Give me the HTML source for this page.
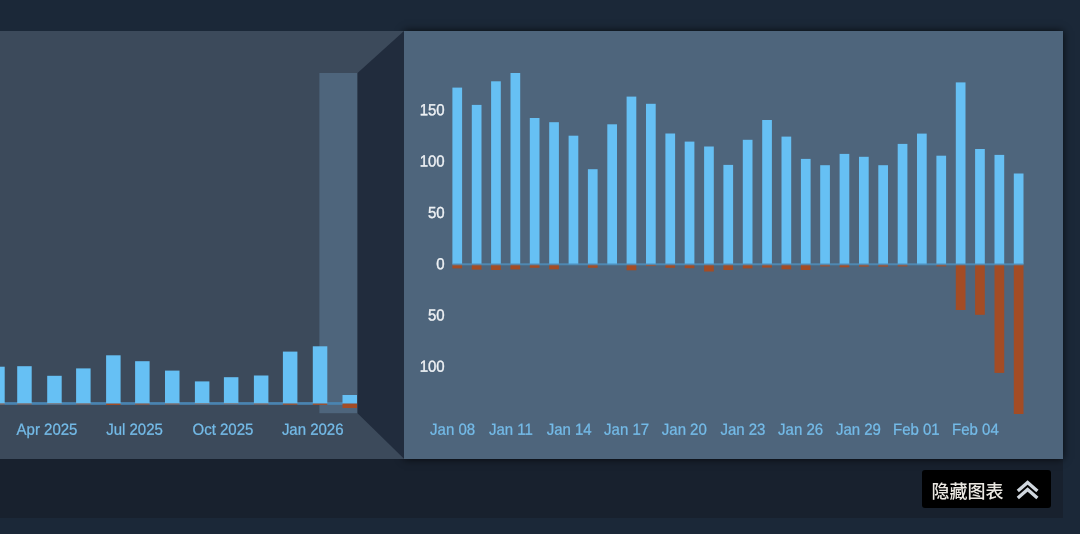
<!DOCTYPE html>
<html lang="zh-CN"><head><meta charset="utf-8"><title>Reviews</title>
<style>
html,body{margin:0;padding:0;}
body{width:1080px;height:534px;overflow:hidden;background:#1b2838;position:relative;font-family:"Liberation Sans","Noto Sans CJK SC",sans-serif;}
#cont{position:absolute;left:0;top:31px;width:1063px;height:487px;background:#18212e;}
#left{position:absolute;left:0;top:31px;width:404px;height:428px;background:#3c4a5b;overflow:hidden;}
#right{position:absolute;left:404px;top:31px;width:659px;height:428px;background:#4e657c;box-shadow:0 0 8px rgba(0,0,0,0.75);}

svg.geo{position:absolute;left:0;top:0;}
svg.chart{position:absolute;left:0;top:0;}
.yl{font:15px "Liberation Sans",sans-serif;fill:#eef1f4;stroke:#eef1f4;stroke-width:0.35px;}
.xl{font:15px "Liberation Sans",sans-serif;fill:#74bbe8;stroke:#74bbe8;stroke-width:0.25px;}
#btn{position:absolute;left:922px;top:470px;width:128.5px;height:38px;background:#000;border-radius:3px;color:#ebe8e2;font-size:18px;line-height:38px;}
#btn span{position:absolute;left:9.5px;top:3px;white-space:nowrap;font-weight:500;}
#btn svg{position:absolute;left:94px;top:9px;}
</style></head><body>
<div id="cont"></div>
<div id="right"></div>
<div id="left"></div>
<svg class="geo" width="1080" height="534"><rect x="319.4" y="73" width="38.1" height="340.2" fill="#4e657c"/><polygon points="357.5,73 404,31 404,458.7 357.5,413.2" fill="#212c3d"/></svg>

<svg class="chart" width="1080" height="534" viewBox="0 0 1080 534">
<rect x="0" y="402.1" width="357" height="2.7" fill="#4a84b1"/>
<rect x="-9.8" y="366.7" width="14.5" height="36.9" fill="#66c0f4"/>
<rect x="-9.8" y="403.6" width="14.5" height="0.8" fill="#a34c25"/>
<rect x="17.2" y="366.2" width="14.5" height="37.4" fill="#66c0f4"/>
<rect x="17.2" y="403.6" width="14.5" height="0.8" fill="#a34c25"/>
<rect x="47.2" y="375.8" width="14.5" height="27.8" fill="#66c0f4"/>
<rect x="47.2" y="403.6" width="14.5" height="0.6" fill="#a34c25"/>
<rect x="76.1" y="368.4" width="14.5" height="35.2" fill="#66c0f4"/>
<rect x="76.1" y="403.6" width="14.5" height="0.8" fill="#a34c25"/>
<rect x="106.1" y="355.3" width="14.5" height="48.3" fill="#66c0f4"/>
<rect x="106.1" y="403.6" width="14.5" height="1.4" fill="#a34c25"/>
<rect x="135.1" y="361.2" width="14.5" height="42.4" fill="#66c0f4"/>
<rect x="135.1" y="403.6" width="14.5" height="1.0" fill="#a34c25"/>
<rect x="165.0" y="370.6" width="14.5" height="33.0" fill="#66c0f4"/>
<rect x="165.0" y="403.6" width="14.5" height="0.8" fill="#a34c25"/>
<rect x="194.9" y="381.4" width="14.5" height="22.2" fill="#66c0f4"/>
<rect x="194.9" y="403.6" width="14.5" height="0.6" fill="#a34c25"/>
<rect x="223.9" y="377.2" width="14.5" height="26.4" fill="#66c0f4"/>
<rect x="223.9" y="403.6" width="14.5" height="0.6" fill="#a34c25"/>
<rect x="253.9" y="375.5" width="14.5" height="28.1" fill="#66c0f4"/>
<rect x="253.9" y="403.6" width="14.5" height="0.8" fill="#a34c25"/>
<rect x="282.9" y="351.6" width="14.5" height="52.0" fill="#66c0f4"/>
<rect x="282.9" y="403.6" width="14.5" height="1.2" fill="#a34c25"/>
<rect x="312.8" y="346.3" width="14.5" height="57.3" fill="#66c0f4"/>
<rect x="312.8" y="403.6" width="14.5" height="1.3" fill="#a34c25"/>
<rect x="342.5" y="395.0" width="14.5" height="8.6" fill="#66c0f4"/>
<rect x="342.5" y="403.6" width="14.5" height="4.4" fill="#a34c25"/>
<rect x="452.4" y="87.6" width="9.7" height="176.7" fill="#66c0f4"/>
<rect x="452.4" y="264.3" width="9.7" height="4.1" fill="#a34c25"/>
<rect x="471.8" y="104.9" width="9.7" height="159.4" fill="#66c0f4"/>
<rect x="471.8" y="264.3" width="9.7" height="5.3" fill="#a34c25"/>
<rect x="491.1" y="81.3" width="9.7" height="183.0" fill="#66c0f4"/>
<rect x="491.1" y="264.3" width="9.7" height="5.7" fill="#a34c25"/>
<rect x="510.5" y="73.0" width="9.7" height="191.3" fill="#66c0f4"/>
<rect x="510.5" y="264.3" width="9.7" height="5.1" fill="#a34c25"/>
<rect x="529.8" y="118.0" width="9.7" height="146.3" fill="#66c0f4"/>
<rect x="529.8" y="264.3" width="9.7" height="3.5" fill="#a34c25"/>
<rect x="549.2" y="122.2" width="9.7" height="142.1" fill="#66c0f4"/>
<rect x="549.2" y="264.3" width="9.7" height="5.0" fill="#a34c25"/>
<rect x="568.6" y="135.7" width="9.7" height="128.6" fill="#66c0f4"/>
<rect x="587.9" y="169.2" width="9.7" height="95.1" fill="#66c0f4"/>
<rect x="587.9" y="264.3" width="9.7" height="3.5" fill="#a34c25"/>
<rect x="607.3" y="124.3" width="9.7" height="140.0" fill="#66c0f4"/>
<rect x="626.6" y="96.6" width="9.7" height="167.7" fill="#66c0f4"/>
<rect x="626.6" y="264.3" width="9.7" height="6.0" fill="#a34c25"/>
<rect x="646.0" y="103.8" width="9.7" height="160.5" fill="#66c0f4"/>
<rect x="646.0" y="264.3" width="9.7" height="1.8" fill="#a34c25"/>
<rect x="665.4" y="133.5" width="9.7" height="130.8" fill="#66c0f4"/>
<rect x="665.4" y="264.3" width="9.7" height="3.5" fill="#a34c25"/>
<rect x="684.7" y="141.6" width="9.7" height="122.7" fill="#66c0f4"/>
<rect x="684.7" y="264.3" width="9.7" height="3.9" fill="#a34c25"/>
<rect x="704.1" y="146.5" width="9.7" height="117.8" fill="#66c0f4"/>
<rect x="704.1" y="264.3" width="9.7" height="7.2" fill="#a34c25"/>
<rect x="723.4" y="164.9" width="9.7" height="99.4" fill="#66c0f4"/>
<rect x="723.4" y="264.3" width="9.7" height="5.7" fill="#a34c25"/>
<rect x="742.8" y="139.8" width="9.7" height="124.5" fill="#66c0f4"/>
<rect x="742.8" y="264.3" width="9.7" height="4.1" fill="#a34c25"/>
<rect x="762.2" y="120.0" width="9.7" height="144.3" fill="#66c0f4"/>
<rect x="762.2" y="264.3" width="9.7" height="3.3" fill="#a34c25"/>
<rect x="781.5" y="136.6" width="9.7" height="127.7" fill="#66c0f4"/>
<rect x="781.5" y="264.3" width="9.7" height="5.0" fill="#a34c25"/>
<rect x="800.9" y="158.9" width="9.7" height="105.4" fill="#66c0f4"/>
<rect x="800.9" y="264.3" width="9.7" height="5.7" fill="#a34c25"/>
<rect x="820.2" y="165.2" width="9.7" height="99.1" fill="#66c0f4"/>
<rect x="820.2" y="264.3" width="9.7" height="2.1" fill="#a34c25"/>
<rect x="839.6" y="153.9" width="9.7" height="110.4" fill="#66c0f4"/>
<rect x="839.6" y="264.3" width="9.7" height="3.0" fill="#a34c25"/>
<rect x="859.0" y="156.8" width="9.7" height="107.5" fill="#66c0f4"/>
<rect x="859.0" y="264.3" width="9.7" height="2.3" fill="#a34c25"/>
<rect x="878.3" y="165.2" width="9.7" height="99.1" fill="#66c0f4"/>
<rect x="878.3" y="264.3" width="9.7" height="2.3" fill="#a34c25"/>
<rect x="897.7" y="143.9" width="9.7" height="120.4" fill="#66c0f4"/>
<rect x="897.7" y="264.3" width="9.7" height="2.1" fill="#a34c25"/>
<rect x="917.0" y="133.6" width="9.7" height="130.7" fill="#66c0f4"/>
<rect x="936.4" y="155.7" width="9.7" height="108.6" fill="#66c0f4"/>
<rect x="936.4" y="264.3" width="9.7" height="2.1" fill="#a34c25"/>
<rect x="955.8" y="82.4" width="9.7" height="181.9" fill="#66c0f4"/>
<rect x="955.8" y="264.3" width="9.7" height="45.7" fill="#a34c25"/>
<rect x="975.1" y="149.0" width="9.7" height="115.3" fill="#66c0f4"/>
<rect x="975.1" y="264.3" width="9.7" height="50.5" fill="#a34c25"/>
<rect x="994.5" y="154.9" width="9.7" height="109.4" fill="#66c0f4"/>
<rect x="994.5" y="264.3" width="9.7" height="108.6" fill="#a34c25"/>
<rect x="1013.8" y="173.5" width="9.7" height="90.8" fill="#66c0f4"/>
<rect x="1013.8" y="264.3" width="9.7" height="149.7" fill="#a34c25"/>
<rect x="452.4" y="263.3" width="571.1" height="2" fill="#4f94c4" fill-opacity="0.75"/>
<text transform="translate(444.7 115.3) rotate(0.03) scale(1 1.07)" text-anchor="end" class="yl">150</text>
<text transform="translate(444.7 166.6) rotate(0.03) scale(1 1.07)" text-anchor="end" class="yl">100</text>
<text transform="translate(444.7 217.9) rotate(0.03) scale(1 1.07)" text-anchor="end" class="yl">50</text>
<text transform="translate(444.7 269.2) rotate(0.03) scale(1 1.07)" text-anchor="end" class="yl">0</text>
<text transform="translate(444.7 320.5) rotate(0.03) scale(1 1.07)" text-anchor="end" class="yl">50</text>
<text transform="translate(444.7 371.8) rotate(0.03) scale(1 1.07)" text-anchor="end" class="yl">100</text>
<text transform="translate(452.6 434.7) rotate(0.03) scale(1 1.07)" text-anchor="middle" class="xl">Jan 08</text>
<text transform="translate(510.9 434.7) rotate(0.03) scale(1 1.07)" text-anchor="middle" class="xl">Jan 11</text>
<text transform="translate(569.2 434.7) rotate(0.03) scale(1 1.07)" text-anchor="middle" class="xl">Jan 14</text>
<text transform="translate(626.6 434.7) rotate(0.03) scale(1 1.07)" text-anchor="middle" class="xl">Jan 17</text>
<text transform="translate(684.3 434.7) rotate(0.03) scale(1 1.07)" text-anchor="middle" class="xl">Jan 20</text>
<text transform="translate(742.9 434.7) rotate(0.03) scale(1 1.07)" text-anchor="middle" class="xl">Jan 23</text>
<text transform="translate(800.6 434.7) rotate(0.03) scale(1 1.07)" text-anchor="middle" class="xl">Jan 26</text>
<text transform="translate(858.4 434.7) rotate(0.03) scale(1 1.07)" text-anchor="middle" class="xl">Jan 29</text>
<text transform="translate(916.3 434.7) rotate(0.03) scale(1 1.07)" text-anchor="middle" class="xl">Feb 01</text>
<text transform="translate(975.4 434.7) rotate(0.03) scale(1 1.07)" text-anchor="middle" class="xl">Feb 04</text>
<text transform="translate(47.0 434.7) rotate(0.03) scale(1 1.07)" text-anchor="middle" class="xl">Apr 2025</text>
<text transform="translate(134.5 434.7) rotate(0.03) scale(1 1.07)" text-anchor="middle" class="xl">Jul 2025</text>
<text transform="translate(222.9 434.7) rotate(0.03) scale(1 1.07)" text-anchor="middle" class="xl">Oct 2025</text>
<text transform="translate(312.7 434.7) rotate(0.03) scale(1 1.07)" text-anchor="middle" class="xl">Jan 2026</text>
</svg>
<div id="btn"><span>隐藏图表</span>
<svg width="24" height="22" viewBox="0 0 24 22"><path d="M1.8 12.1 L11.6 3.5 L21.4 12.1 M1.8 19.0 L11.6 10.4 L21.4 19.0" fill="none" stroke="#d0d7de" stroke-width="3.3"/></svg>
</div>
</body></html>
